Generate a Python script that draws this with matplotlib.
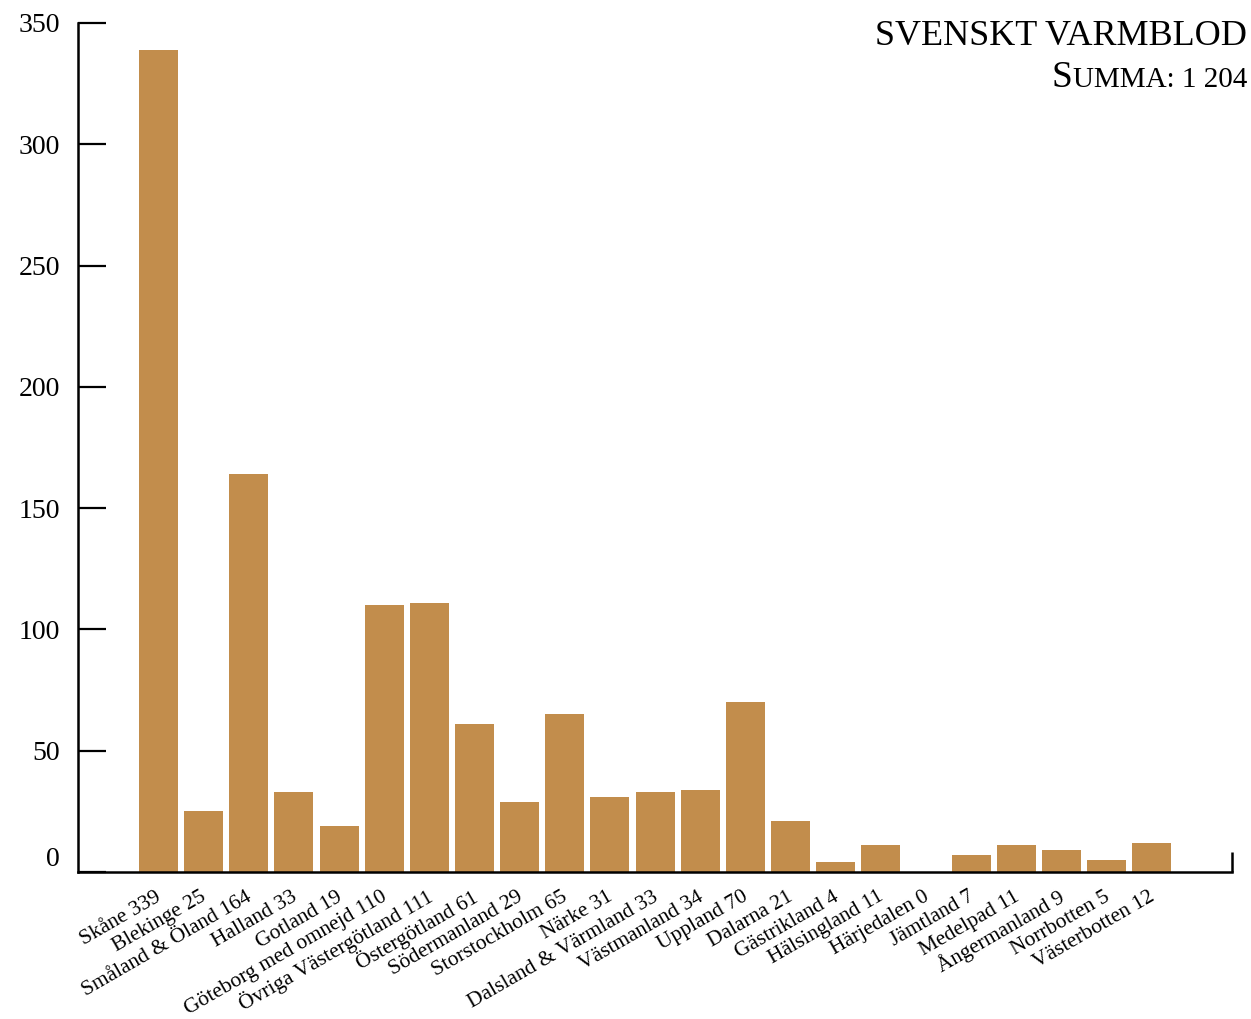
import matplotlib
matplotlib.use("Agg")
import matplotlib.pyplot as plt
import numpy as np
from matplotlib.transforms import ScaledTranslation

# Data: Svenskt varmblod per district
regions = ["Skåne", "Blekinge", "Småland & Öland", "Halland", "Gotland",
           "Göteborg med omnejd", "Övriga Västergötland", "Östergötland",
           "Södermanland", "Storstockholm", "Närke", "Dalsland & Värmland",
           "Västmanland", "Uppland", "Dalarna", "Gästrikland", "Hälsingland",
           "Härjedalen", "Jämtland", "Medelpad", "Ångermanland", "Norrbotten",
           "Västerbotten"]
counts = [339, 25, 164, 33, 19, 110, 111, 61, 29, 65, 31, 33, 34, 70, 21,
          4, 11, 0, 7, 11, 9, 5, 12]
yticks = [0, 50, 100, 150, 200, 250, 300, 350]

BAR = "#C28D4C"
plt.rcParams['font.family'] = ['Liberation Serif', 'DejaVu Serif']

W, H = 1251, 1019
fig = plt.figure(figsize=(W / 100, H / 100), dpi=100)
ax = fig.add_axes([78 / W, 1 - 872 / H, (1232 - 78) / W, (872 - 23) / H])

x = np.arange(len(regions))
ax.bar(x, counts, width=0.865, color=BAR, edgecolor='none')
ax.set_xlim(-1.783, 23.78)
ax.set_ylim(0, 350)

for s in ['top', 'right']:
    ax.spines[s].set_visible(False)
ax.spines['left'].set_linewidth(1.8)
ax.spines['bottom'].set_linewidth(1.8)

ax.tick_params(axis='y', direction='in', length=20, width=1.6, pad=13)
ax.tick_params(axis='x', length=0, pad=17)

ax.set_yticks(yticks)
ylabs = ax.set_yticklabels([str(v) for v in yticks], fontsize=20)
ylabs[0].set_verticalalignment('bottom')

# outer tick at right end of x axis
ax.plot([1, 1], [0, 0.024], transform=ax.transAxes, color='black',
        lw=1.8, clip_on=False, solid_capstyle='butt')

ax.set_xticks(x)
xlabs = ax.set_xticklabels([f"{r} {c}" for r, c in zip(regions, counts)],
                           rotation=30, ha='right', rotation_mode='anchor',
                           fontsize=15.5, va='center')
shift = ScaledTranslation(1.5 / 100, 0, fig.dpi_scale_trans)
for lab in xlabs:
    lab.set_transform(lab.get_transform() + shift)

total = sum(counts)
fig.text(1247 / W, 1 - 45 / H, "SVENSKT VARMBLOD", ha='right',
         va='baseline', fontsize=26)
rest = fig.text(1247 / W, 1 - 87 / H,
                "UMMA: " + f"{total:,}".replace(',', ' '),
                ha='right', va='baseline', fontsize=21)
fig.canvas.draw()
bb = rest.get_window_extent(fig.canvas.get_renderer())
fig.text(bb.x0 / W, 1 - 87 / H, "S", ha='right', va='baseline', fontsize=27)

fig.savefig("out.png", dpi=100)
